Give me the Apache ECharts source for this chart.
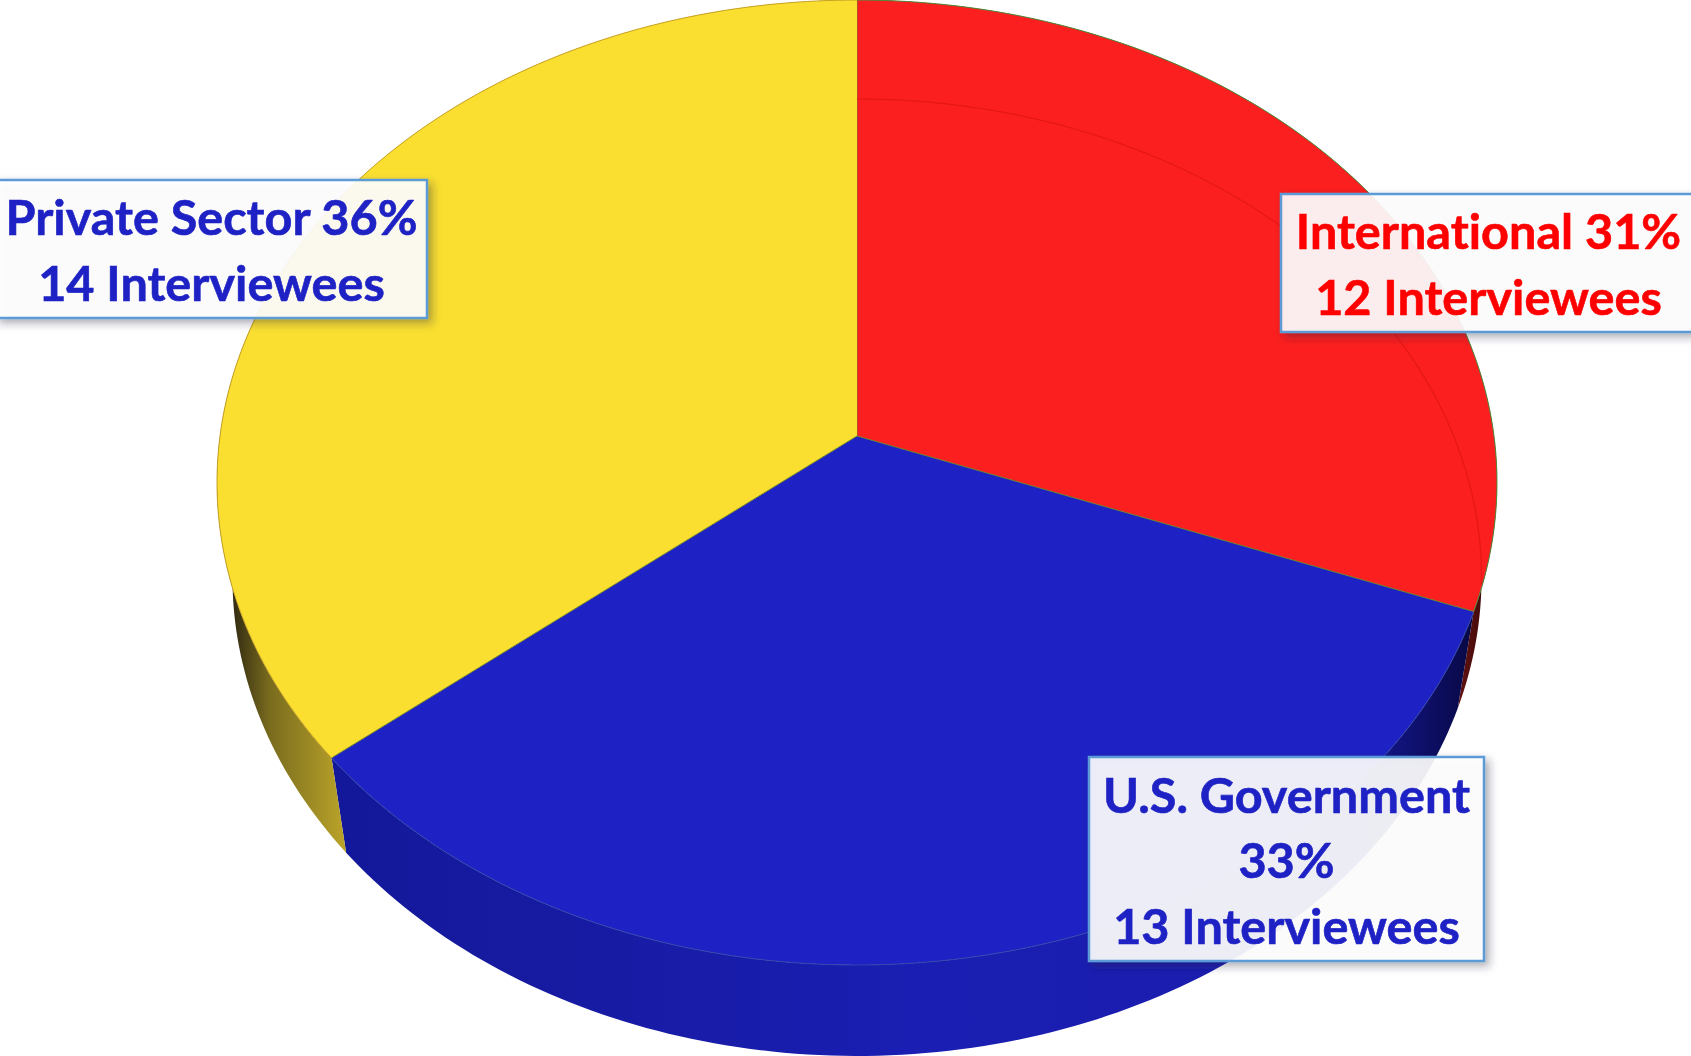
<!DOCTYPE html>
<html>
<head>
<meta charset="utf-8">
<title>Interviewees by sector</title>
<script src="https://cdn.jsdelivr.net/npm/echarts@6/dist/echarts.min.js"></script>
<style>
  html, body { margin: 0; padding: 0; background: #fff; }
  #chart { width: 1691px; height: 1056px; }
  #chart text { font-variant-ligatures: none; }
</style>
</head>
<body>
<div id="chart"></div>
<script>
// Interview counts per sector, clockwise from twelve o'clock
var sectors = ['International', 'U.S. Government', 'Private Sector'];
var interviewees = [12, 13, 14];
var percents = [31, 33, 36];

// Label wording, one line break pattern per sector
var labelLines = [
  ['International 31%', '12 Interviewees'],
  ['U.S. Government', '33%', '13 Interviewees'],
  ['Private Sector 36%', '14 Interviewees']
];

var faceColors = ['#FC1F1F', '#1E22C4', '#FADF31'];
var rimColors = ['#4f8a3a', '#3346ab', '#c9a224'];
var labelColors = ['#FF0000', '#1E22C4', '#1E22C4'];

// Label boxes: left, top, right, bottom
var labelBoxes = [
  [1281, 194, 1696, 332],
  [1089, 757, 1484, 961],
  [-4, 180, 427, 318]
];

// Perspective view of the disc: the upper and lower rims share a centre line
var topRim = { cx: 857, cy: 436, a: 637, b: 478, k: 0.0964 };
var lowerRim = { cx: 857, cy: 534.4, a: 622, b: 474.6, k: 0.09 };

function project(rim, deg) {
  var t = deg * Math.PI / 180;
  var u = Math.sin(t), v = Math.cos(t);
  var w = 1 + rim.k * v;
  return [rim.cx + rim.a * u / w, rim.cy - rim.b * v / w];
}

function arc(rim, from, to) {
  var pts = [];
  var n = Math.max(2, Math.ceil(Math.abs(to - from)));
  for (var i = 0; i <= n; i++) pts.push(project(rim, from + (to - from) * i / n));
  return pts;
}

var total = interviewees.reduce(function (s, v) { return s + v; }, 0);

function sliceAngles(index) {
  var before = 0;
  for (var i = 0; i < index; i++) before += interviewees[i];
  return [before / total * 360, (before + interviewees[index]) / total * 360];
}

// Side wall shading runs across the visible part of each wall
function wallFill(index) {
  var left = topRim.cx - 640;
  var range = sliceAngles(index);
  if (index === 0) {
    return { type: 'linear', global: true, x: 1440, y: 0, x2: 1490, y2: 0,
      colorStops: [{ offset: 0, color: '#7a1414' }, { offset: 1, color: '#3a0a0a' }] };
  }
  if (index === 1) {
    var x0 = project(lowerRim, range[1])[0];
    return { type: 'linear', global: true, x: x0, y: 0, x2: project(lowerRim, 97)[0], y2: 0,
      colorStops: [
        { offset: 0, color: '#13179A' },
        { offset: 0.12, color: '#161A9E' },
        { offset: 0.5, color: '#1A1EB2' },
        { offset: 0.8, color: '#1A1DAE' },
        { offset: 0.92, color: '#121480' },
        { offset: 1, color: '#07073F' }
      ] };
  }
  return { type: 'linear', global: true, x: left + 12, y: 0, x2: project(lowerRim, range[0])[0], y2: 0,
    colorStops: [
      { offset: 0, color: '#2a2410' },
      { offset: 0.35, color: '#7a6c1e' },
      { offset: 1, color: '#BBA42A' }
    ] };
}

function renderWall(params, api) {
  var index = api.value(0);
  var range = sliceAngles(index);
  var upper = arc(topRim, range[0], range[1]);
  var lower = arc(lowerRim, range[1], range[0]);
  return {
    type: 'polygon',
    shape: { points: upper.concat(lower) },
    style: { fill: wallFill(index), stroke: null }
  };
}

function renderFace(params, api) {
  var index = api.value(0);
  var range = sliceAngles(index);
  var apex = [topRim.cx, topRim.cy];
  var rim = arc(topRim, range[0], range[1]);
  var children = [
    { type: 'polygon', shape: { points: [apex].concat(rim) }, style: { fill: faceColors[index] } },
    { type: 'polyline', shape: { points: rim },
      style: { fill: null, stroke: rimColors[index], lineWidth: 1 } },
    { type: 'polyline', shape: { points: [apex, rim[0]] },
      style: { fill: null, stroke: '#6b7f2c', lineWidth: 1 } }
  ];
  if (index === 0) {
    // Lower rim showing faintly through the red face
    var through = arc(lowerRim, range[0], 96);
    children.push({ type: 'polyline', shape: { points: through },
      style: { fill: null, stroke: '#E51717', lineWidth: 1.2 } });
  }
  return { type: 'group', children: children };
}

function renderLabel(params, api) {
  var index = api.value(0);
  var box = labelBoxes[index];
  var midX = (box[0] + box[2]) / 2, midY = (box[1] + box[3]) / 2;
  return {
    type: 'group',
    children: [
      { type: 'rect',
        shape: { x: box[0], y: box[1], width: box[2] - box[0], height: box[3] - box[1] },
        style: { fill: 'rgba(255,255,255,0.9)', stroke: '#5B9BD5', lineWidth: 2.5,
          shadowBlur: 9, shadowOffsetX: 4, shadowOffsetY: 4, shadowColor: 'rgba(40,40,60,0.4)' } },
      { type: 'text',
        x: midX, y: midY,
        style: {
          text: labelLines[index].join('\n'),
          fontFamily: 'Lato', fontWeight: 'bold', fontSize: 48.6, lineHeight: 65.5,
          align: 'center', verticalAlign: 'middle', fill: labelColors[index],
          stroke: labelColors[index], lineWidth: 0.6
        } }
    ]
  };
}

var rows = sectors.map(function (name, i) {
  return { name: name, value: [i, interviewees[i], percents[i]] };
});

function layer(renderItem, z) {
  return {
    type: 'custom',
    coordinateSystem: 'none',
    renderItem: renderItem,
    data: rows,
    z: z,
    silent: true,
    animation: false
  };
}

var chart = echarts.init(document.getElementById('chart'), null, { renderer: 'svg' });
chart.setOption({
  backgroundColor: '#ffffff',
  animation: false,
  series: [layer(renderWall, 1), layer(renderFace, 2), layer(renderLabel, 3)]
});
</script>
</body>
</html>
